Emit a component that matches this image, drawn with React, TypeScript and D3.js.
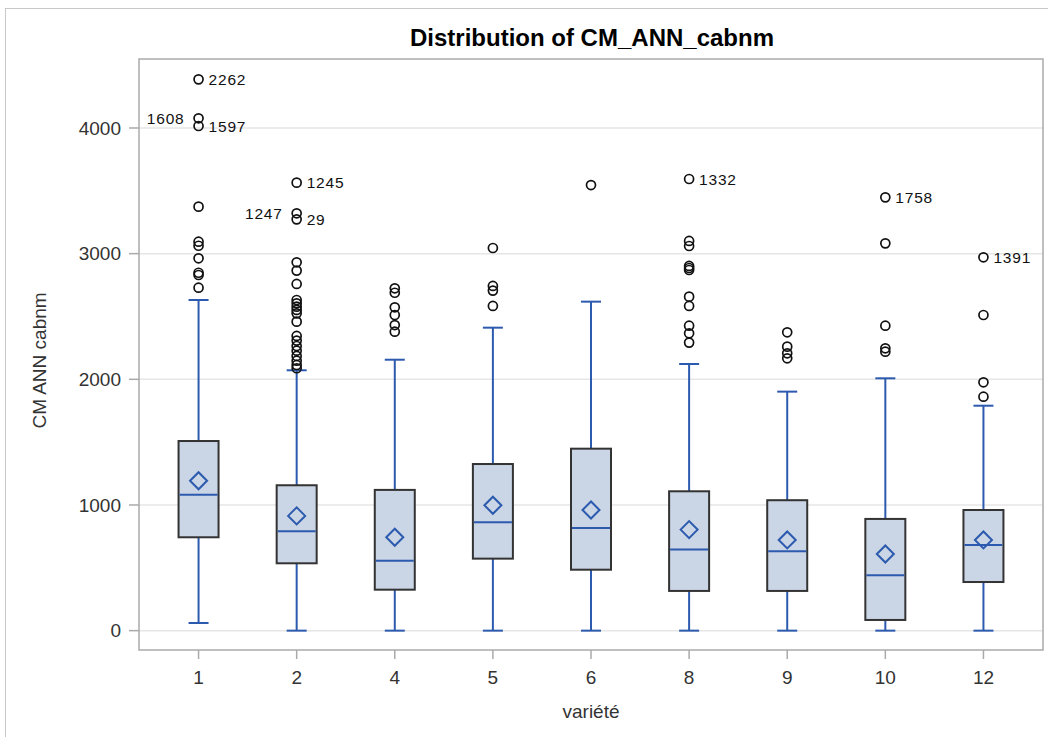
import React from "react";
import * as d3 from "d3";

// Box-plot summary of CM_ANN_cabnm by variété
const categories = ["1", "2", "4", "5", "6", "8", "9", "10", "12"];
const q1 = [743, 536, 326, 573, 485, 316, 316, 85, 387];
const medians = [1082, 791, 557, 862, 817, 645, 632, 441, 682];
const q3 = [1509, 1157, 1120, 1326, 1448, 1109, 1038, 889, 960];
const means = [1193, 913, 743, 998, 960, 804, 722, 610, 722];
const whiskerLow = [61, 0, 0, 0, 0, 0, 0, 0, 0];
const whiskerHigh = [2631, 2072, 2156, 2411, 2618, 2122, 1902, 2008, 1790];
const outliers = [
  [4387, 4077, 4016, 3374, 3095, 3063, 2963, 2848, 2830, 2729],
  [3565, 3321, 3273, 2931, 2865, 2759, 2631, 2605, 2578, 2552, 2525, 2459, 2345, 2308, 2265, 2228, 2186, 2148, 2114, 2088],
  [2724, 2689, 2573, 2512, 2432, 2379],
  [3045, 2743, 2706, 2584],
  [3546],
  [3594, 3101, 3061, 2902, 2886, 2870, 2658, 2584, 2427, 2366, 2292],
  [2374, 2260, 2207, 2167],
  [3448, 3082, 2427, 2247, 2220],
  [2971, 2512, 1976, 1862],
];
// Identified extreme observations
const labelCats = ["1", "1", "1", "2", "2", "2", "8", "10", "12"];
const labelValues = [4387, 4077, 4016, 3565, 3321, 3273, 3594, 3448, 2971];
const labelIds = ["2262", "1608", "1597", "1245", "1247", "29", "1332", "1758", "1391"];
const yTicks = [0, 1000, 2000, 3000, 4000];

const TITLE = "Distribution of CM_ANN_cabnm";
const X_LABEL = "variété";
const Y_LABEL = "CM ANN cabnm";

const W = 1048;
const H = 737;
const plot = { left: 139, top: 59, right: 1043, bottom: 650 };
const FONT = "'Liberation Sans', Arial, Helvetica, sans-serif";
const BLUE = "#2C5AAE";
const FILL = "#CAD5E5";
const EDGE = "#333333";
const FRAME = "#AAAAAA";
const GRID = "#E6E6E6";
const leftSide = new Set(["1608", "1247"]);

export default function App() {
  const x = d3
    .scalePoint<string>()
    .domain(categories)
    .range([plot.left, plot.right])
    .padding(0.607);
  const y = d3.scaleLinear().domain([-154, 4549]).range([plot.bottom, plot.top]);
  const boxW = 40;
  const capW = 20;
  const dia = 8.5;

  return (
    <svg
      width={W}
      height={H}
      style={{ position: "absolute", left: 0, top: 0, background: "#fff" }}
      fontFamily={FONT}
    >
      <rect x={5.5} y={8.5} width={W + 20} height={H + 20} fill="#fff" stroke="#C8C8C8" strokeWidth={1} />

      <text x={592} y={46} textAnchor="middle" fontSize={24} fontWeight="bold" fill="#000">
        {TITLE}
      </text>

      {/* grid */}
      {yTicks.map((t) => (
        <line key={"g" + t} x1={plot.left} x2={plot.right} y1={y(t)} y2={y(t)} stroke={GRID} strokeWidth={1.5} />
      ))}

      {/* boxes */}
      {categories.map((c, i) => {
        const cx = x(c)!;
        const dPath = `M${cx - dia},${y(means[i])}L${cx},${y(means[i]) - dia}L${cx + dia},${y(means[i])}L${cx},${y(means[i]) + dia}Z`;
        return (
          <g key={"b" + c}>
            <line x1={cx} x2={cx} y1={y(q3[i])} y2={y(whiskerHigh[i])} stroke={BLUE} strokeWidth={2} />
            <line x1={cx} x2={cx} y1={y(q1[i])} y2={y(whiskerLow[i])} stroke={BLUE} strokeWidth={2} />
            <line x1={cx - capW / 2} x2={cx + capW / 2} y1={y(whiskerHigh[i])} y2={y(whiskerHigh[i])} stroke={BLUE} strokeWidth={2} />
            <line x1={cx - capW / 2} x2={cx + capW / 2} y1={y(whiskerLow[i])} y2={y(whiskerLow[i])} stroke={BLUE} strokeWidth={2} />
            <rect
              x={cx - boxW / 2}
              y={y(q3[i])}
              width={boxW}
              height={y(q1[i]) - y(q3[i])}
              fill={FILL}
              stroke={EDGE}
              strokeWidth={2}
            />
            <line x1={cx - boxW / 2 + 1} x2={cx + boxW / 2 - 1} y1={y(medians[i])} y2={y(medians[i])} stroke={BLUE} strokeWidth={2} />
            <path d={dPath} fill="none" stroke={BLUE} strokeWidth={2} />
            {outliers[i].map((v, j) => (
              <circle key={j} cx={cx} cy={y(v)} r={4.5} fill="none" stroke="#111" strokeWidth={1.7} />
            ))}
          </g>
        );
      })}

      {/* outlier identifiers */}
      {labelIds.map((id, k) => {
        const cx = x(labelCats[k])!;
        const left = leftSide.has(id);
        return (
          <text
            key={"l" + id}
            x={left ? cx - 14 : cx + 10}
            y={y(labelValues[k])}
            dy="0.36em"
            textAnchor={left ? "end" : "start"}
            fontSize={15.5}
            letterSpacing={0.8}
            fill="#111"
          >
            {id}
          </text>
        );
      })}

      {/* frame */}
      <rect
        x={plot.left}
        y={plot.top}
        width={plot.right - plot.left}
        height={plot.bottom - plot.top}
        fill="none"
        stroke={FRAME}
        strokeWidth={1.5}
      />

      {/* y axis */}
      {yTicks.map((t) => (
        <g key={"yt" + t}>
          <line x1={plot.left - 10} x2={plot.left} y1={y(t)} y2={y(t)} stroke={FRAME} strokeWidth={1.5} />
          <text x={plot.left - 18} y={y(t)} dy="0.36em" textAnchor="end" fontSize={19} fill="#333">
            {t}
          </text>
        </g>
      ))}
      <text
        transform={`translate(46,${(plot.top + plot.bottom) / 2 + 6}) rotate(-90)`}
        textAnchor="middle"
        fontSize={19}
        fill="#333"
      >
        {Y_LABEL}
      </text>

      {/* x axis */}
      {categories.map((c) => (
        <g key={"xt" + c}>
          <line x1={x(c)!} x2={x(c)!} y1={plot.bottom} y2={plot.bottom + 9} stroke={FRAME} strokeWidth={1.5} />
          <text x={x(c)!} y={684} textAnchor="middle" fontSize={19} fill="#333">
            {c}
          </text>
        </g>
      ))}
      <text x={(plot.left + plot.right) / 2} y={718} textAnchor="middle" fontSize={19} fill="#333">
        {X_LABEL}
      </text>
    </svg>
  );
}
